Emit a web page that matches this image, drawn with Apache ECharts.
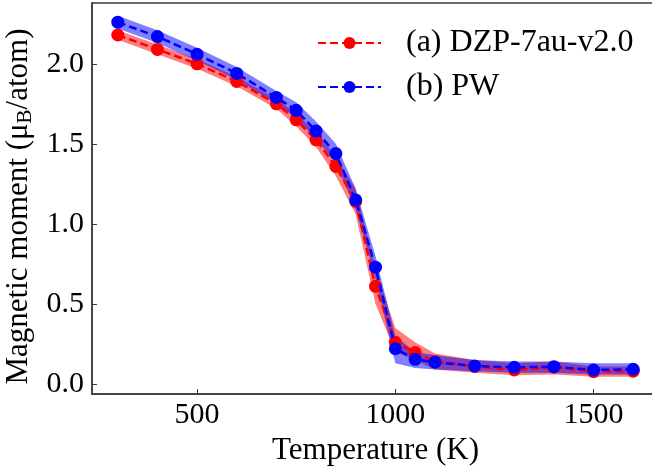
<!DOCTYPE html>
<html>
<head>
<meta charset="utf-8">
<script src="https://cdn.jsdelivr.net/npm/echarts@6/dist/echarts.min.js"></script>
<style>
html,body{margin:0;padding:0;background:#fff;}
#main{width:652px;height:466px;}
</style>
</head>
<body>
<div id="main"></div>
<script>
var temperatures = [300, 400, 500, 600, 700, 750, 800, 850, 900, 950, 1000, 1050, 1100, 1200, 1300, 1400, 1500, 1600];

var dzpMean  = [2.18, 2.09, 2.00, 1.89, 1.75, 1.65, 1.525, 1.36, 1.14, 0.61, 0.26, 0.196, 0.14, 0.11, 0.088, 0.105, 0.077, 0.08];
var dzpLower = [2.15, 2.06, 1.97, 1.86, 1.72, 1.61, 1.48, 1.30, 1.06, 0.50, 0.20, 0.15, 0.09, 0.07, 0.055, 0.06, 0.045, 0.045];
var dzpUpper = [2.21, 2.12, 2.03, 1.92, 1.78, 1.69, 1.57, 1.42, 1.22, 0.72, 0.35, 0.26, 0.19, 0.15, 0.13, 0.14, 0.11, 0.11];

var pwMean  = [2.26, 2.17, 2.06, 1.94, 1.79, 1.71, 1.58, 1.44, 1.15, 0.73, 0.22, 0.154, 0.136, 0.1125, 0.104, 0.108, 0.0875, 0.092];
var pwLower = [2.22, 2.13, 2.02, 1.90, 1.75, 1.66, 1.53, 1.38, 1.09, 0.66, 0.13, 0.10, 0.09, 0.08, 0.07, 0.07, 0.06, 0.06];
var pwUpper = [2.30, 2.21, 2.10, 1.98, 1.83, 1.76, 1.64, 1.50, 1.22, 0.80, 0.30, 0.20, 0.18, 0.15, 0.14, 0.14, 0.13, 0.13];

var xTicks = [500, 1000, 1500];
var yTicks = [0, 0.5, 1.0, 1.5, 2.0];

var seriesNames = ['(a) DZP-7au-v2.0', '(b) PW'];

function pairs(xs, ys) { return xs.map(function (x, i) { return [x, ys[i]]; }); }
function bandRows(xs, lo, hi) { return xs.map(function (x, i) { return [x, lo[i], hi[i]]; }); }

var FONT = 'Liberation Serif';

function bandSeries(lo, hi, color) {
  var rows = bandRows(temperatures, lo, hi);
  return {
    type: 'custom', silent: true, z: 1,
    data: [0],
    renderItem: function (params, api) {
      var upper = rows.map(function (r) { return api.coord([r[0], r[2]]); });
      var lower = rows.map(function (r) { return api.coord([r[0], r[1]]); }).reverse();
      return {
        type: 'polygon',
        shape: { points: upper.concat(lower) },
        style: { fill: color, stroke: null }
      };
    }
  };
}

var chart = echarts.init(document.getElementById('main'), null, { renderer: 'canvas' });
chart.setOption({
  animation: false,
  backgroundColor: '#fff',
  grid: { left: 92, top: 3, right: -7, bottom: 72, containLabel: false, outerBoundsMode: 'none',
    show: true, borderColor: '#3a3a3a', borderWidth: 1.5, backgroundColor: 'transparent' },
  legend: {
    data: seriesNames,
    orient: 'vertical',
    left: 312, top: 22,
    itemWidth: 63, itemHeight: 15, itemGap: 12,
    textStyle: { fontFamily: FONT, fontSize: 32, lineHeight: 32, color: '#000', padding: [0, 0, 0, 20] }
  },
  xAxis: {
    type: 'value', min: 235, max: 1665,
    name: 'Temperature (K)', nameLocation: 'middle', nameGap: 38,
    nameTextStyle: { fontFamily: FONT, fontSize: 31, color: '#000' },
    axisLine: { show: true, onZero: false, lineStyle: { color: '#3a3a3a', width: 1.5 } },
    axisTick: { show: true, inside: true, length: 5, customValues: xTicks, lineStyle: { color: '#3a3a3a', width: 1 } },
    axisLabel: { customValues: xTicks, margin: 6, fontFamily: FONT, fontSize: 30, color: '#000',
      formatter: function (v) { return String(v); } },
    splitLine: { show: false }
  },
  yAxis: {
    type: 'value', min: -0.0625, max: 2.38,
    name: 'Magnetic moment (μ{sub|B}/atom)', nameLocation: 'middle', nameGap: 42,
    nameTextStyle: { fontFamily: FONT, fontSize: 31, color: '#000', padding: [0, 16, 0, 0],
      rich: { sub: { fontFamily: FONT, fontSize: 21, color: '#000', verticalAlign: 'bottom', padding: [12, 0, 0, 0] } } },
    axisLine: { show: true, onZero: false, lineStyle: { color: '#3a3a3a', width: 1.5 } },
    axisTick: { show: true, inside: true, length: 5, customValues: yTicks, lineStyle: { color: '#3a3a3a', width: 1 } },
    axisLabel: { customValues: yTicks, margin: 8, fontFamily: FONT, fontSize: 30, color: '#000',
      formatter: function (v) { return v.toFixed(1); } },
    splitLine: { show: false }
  },
  series: [
    bandSeries(dzpLower, dzpUpper, 'rgba(255,0,0,0.5)'),
    bandSeries(pwLower, pwUpper, 'rgba(0,0,255,0.5)'),
    {
      name: seriesNames[0], type: 'line', data: pairs(temperatures, dzpMean),
      symbol: 'circle', symbolSize: 13, z: 3,
      itemStyle: { color: '#ff0000' },
      lineStyle: { color: '#ff0000', width: 2.5, type: [8, 4] }
    },
    {
      name: seriesNames[1], type: 'line', data: pairs(temperatures, pwMean),
      symbol: 'circle', symbolSize: 13, z: 4,
      itemStyle: { color: '#0000ff' },
      lineStyle: { color: '#0000ff', width: 2.5, type: [8, 4] }
    }
  ]
});
</script>
</body>
</html>
